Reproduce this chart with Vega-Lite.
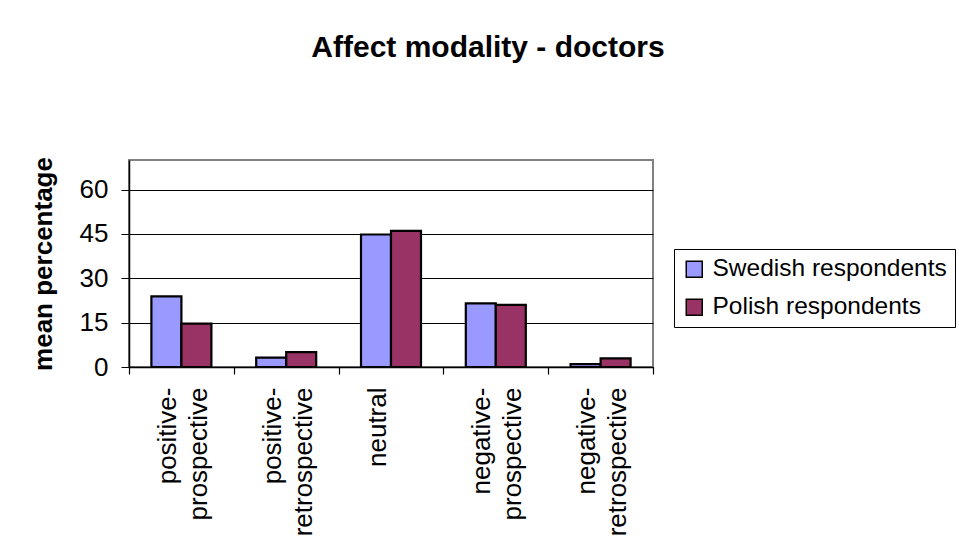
{
  "$schema": "https://vega.github.io/schema/vega-lite/v6.json",
  "width": 524,
  "height": 207,
  "autosize": "none",
  "padding": {"left": 129, "top": 160, "right": 306, "bottom": 193},
  "background": "white",
  "title": {
    "text": "Affect modality - doctors",
    "font": "Liberation Sans",
    "fontSize": 30,
    "fontWeight": "bold",
    "color": "black",
    "anchor": "middle",
    "dx": 97,
    "offset": 94
  },
  "data": {
    "values": [
      {"category": "positive-prospective", "series": "Swedish respondents", "value": 23.9},
      {"category": "positive-prospective", "series": "Polish respondents", "value": 14.7},
      {"category": "positive-retrospective", "series": "Swedish respondents", "value": 3.2},
      {"category": "positive-retrospective", "series": "Polish respondents", "value": 5.0},
      {"category": "neutral", "series": "Swedish respondents", "value": 44.8},
      {"category": "neutral", "series": "Polish respondents", "value": 46.0},
      {"category": "negative-prospective", "series": "Swedish respondents", "value": 21.5},
      {"category": "negative-prospective", "series": "Polish respondents", "value": 21.0},
      {"category": "negative-retrospective", "series": "Swedish respondents", "value": 1.0},
      {"category": "negative-retrospective", "series": "Polish respondents", "value": 2.9}
    ]
  },
  "mark": {"type": "bar", "stroke": "black", "strokeWidth": 2.2},
  "encoding": {
    "x": {
      "field": "category",
      "type": "nominal",
      "sort": ["positive-prospective", "positive-retrospective", "neutral", "negative-prospective", "negative-retrospective"],
      "scale": {"paddingInner": 0, "paddingOuter": 0},
      "axis": {
        "title": null,
        "labelAngle": -90,
        "labelFont": "Liberation Sans",
        "labelFontSize": 26,
        "labelColor": "black",
        "labelLineHeight": 31,
        "labelPadding": 13,
        "labelOffset": -14,
        "labelExpr": "indexof(datum.label, '-') > 0 ? [slice(datum.label, 0, indexof(datum.label, '-') + 1), slice(datum.label, indexof(datum.label, '-') + 1)] : datum.label",
        "tickBand": "extent",
        "tickSize": 7,
        "tickColor": "black",
        "tickWidth": 1.2,
        "domainColor": "black",
        "domainWidth": 1.5,
        "grid": false,
        "labelLimit": 0
      }
    },
    "xOffset": {
      "field": "series",
      "type": "nominal",
      "sort": ["Swedish respondents", "Polish respondents"],
      "scale": {"paddingInner": 0, "paddingOuter": 0.7467}
    },
    "y": {
      "field": "value",
      "type": "quantitative",
      "scale": {"domain": [0, 70], "nice": false},
      "axis": {
        "values": [0, 15, 30, 45, 60],
        "title": "mean percentage",
        "titleFont": "Liberation Sans",
        "titleFontSize": 26,
        "titleFontWeight": "bold",
        "titleColor": "black",
        "titlePadding": 23,
        "labelFont": "Liberation Sans",
        "labelFontSize": 26,
        "labelColor": "black",
        "labelPadding": 13,
        "tickSize": 8,
        "tickColor": "black",
        "domainColor": "black",
        "domainWidth": 1.5,
        "grid": true,
        "gridColor": "black",
        "gridWidth": 1,
        "gridOpacity": 1
      }
    },
    "color": {
      "field": "series",
      "type": "nominal",
      "sort": ["Swedish respondents", "Polish respondents"],
      "scale": {"domain": ["Swedish respondents", "Polish respondents"], "range": ["#9999FF", "#993366"]},
      "legend": {
        "title": null,
        "orient": "none",
        "legendX": 545,
        "legendY": 89,
        "strokeColor": "black",
        "fillColor": "white",
        "padding": 8,
        "symbolType": "square",
        "symbolSize": 256,
        "symbolStrokeColor": "black",
        "symbolStrokeWidth": 1.5,
        "symbolOpacity": 1,
        "labelFont": "Liberation Sans",
        "labelFontSize": 24.5,
        "labelColor": "black",
        "labelOffset": 6,
        "rowPadding": 13,
        "labelLimit": 0
      }
    }
  },
  "config": {
    "font": "Liberation Sans",
    "view": {"stroke": "#808080", "strokeWidth": 2}
  }
}
